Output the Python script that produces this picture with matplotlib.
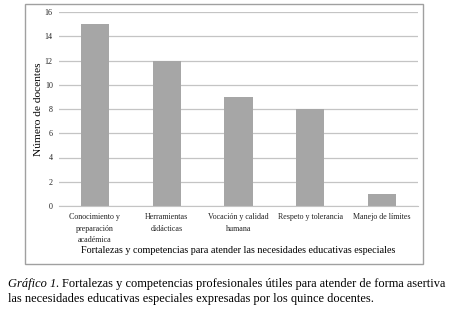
import matplotlib.pyplot as plt
from matplotlib.patches import Rectangle

# Datos del gráfico
categorias = ['Conocimiento y\npreparación\nacadémica', 'Herramientas\ndidácticas',
              'Vocación y calidad\nhumana', 'Respeto y tolerancia', 'Manejo de límites']
docentes = [15, 12, 9, 8, 1]
yticks = [0, 2, 4, 6, 8, 10, 12, 14, 16]

W, H = 453, 310
plt.rcParams['font.family'] = ['Liberation Serif', 'DejaVu Serif']

fig = plt.figure(figsize=(W / 100, H / 100), dpi=100)

# Marco del gráfico
fig.patches.append(Rectangle((25 / W, 1 - 264 / H), 398 / W, 260 / H,
                             transform=fig.transFigure, fill=False,
                             edgecolor='#a0a0a0', linewidth=1.0))

ax = fig.add_axes([59 / W, 1 - 206 / H, 359 / W, 194 / H])
ax.bar(range(len(categorias)), docentes, width=0.39, color='#a6a6a6', zorder=2)
ax.set_xlim(-0.5, len(categorias) - 0.5)
ax.set_ylim(0, 16)
ax.set_yticks(yticks)
ax.grid(axis='y', color='#c4c4c4', linewidth=0.9, zorder=0)
ax.set_xticks(range(len(categorias)))
ax.set_xticklabels(categorias, fontsize=5.8, linespacing=1.6)
ax.tick_params(axis='both', length=0, labelsize=5.8, colors='#222222')
ax.tick_params(axis='y', pad=4.5)
ax.tick_params(axis='x', pad=5)
for s in ['top', 'right', 'left']:
    ax.spines[s].set_visible(False)
ax.spines['bottom'].set_color('#c4c4c4')
ax.set_ylabel('Número de docentes', fontsize=8.2, labelpad=1.5)
ax.set_xlabel('Fortalezas y competencias para atender las necesidades educativas especiales',
              fontsize=7.3, labelpad=1)

# Pie de figura
fs = 8.9
r = fig.canvas.get_renderer()
t1 = fig.text(8 / W, 1 - 287 / H, 'Gráfico 1.', fontsize=fs, style='italic', va='baseline')
x_end = t1.get_window_extent(r).x1
fig.text((x_end + 2.5) / W, 1 - 287 / H,
         'Fortalezas y competencias profesionales útiles para atender de forma asertiva',
         fontsize=fs, va='baseline')
fig.text(8 / W, 1 - 302 / H,
         'las necesidades educativas especiales expresadas por los quince docentes.',
         fontsize=fs, va='baseline')

fig.savefig('out.png', dpi=100)
